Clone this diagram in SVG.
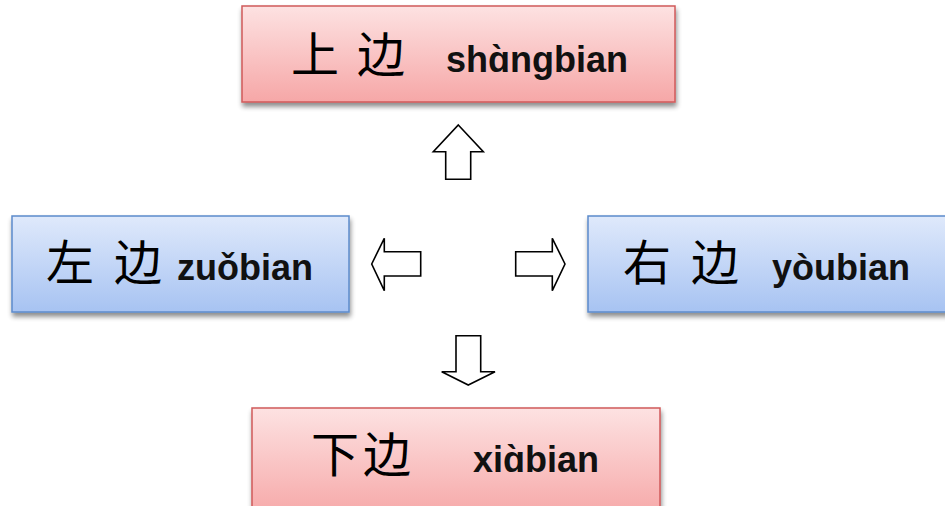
<svg xmlns="http://www.w3.org/2000/svg" width="945" height="506" viewBox="0 0 945 506">
<defs>
<linearGradient id="gRed" x1="0" y1="0" x2="0" y2="1">
<stop offset="0" stop-color="#fde2e2"/>
<stop offset="1" stop-color="#f6a7a7"/>
</linearGradient>
<linearGradient id="gBlue" x1="0" y1="0" x2="0" y2="1">
<stop offset="0" stop-color="#dfe9fb"/>
<stop offset="1" stop-color="#a7c3f2"/>
</linearGradient>
<filter id="sh" x="-10%" y="-20%" width="120%" height="150%">
<feGaussianBlur in="SourceAlpha" stdDeviation="2.5"/>
<feOffset dx="1" dy="4" result="b"/>
<feComponentTransfer><feFuncA type="linear" slope="0.45"/></feComponentTransfer>
<feMerge><feMergeNode/><feMergeNode in="SourceGraphic"/></feMerge>
</filter>
</defs>
<style>
.red{fill:url(#gRed);stroke:#d0595a;stroke-width:1.5;filter:url(#sh)}
.blue{fill:url(#gBlue);stroke:#5c8bcb;stroke-width:1.5;filter:url(#sh)}
.zh{font-family:"Noto Sans CJK SC","Noto Sans CJK TC",sans-serif;font-size:48px;fill:#000}
.py{font-family:"Liberation Sans",Arial,sans-serif;font-weight:bold;font-size:36px;fill:#111}
.arr{fill:#fff;stroke:#000;stroke-width:1.6;stroke-linejoin:miter}
</style>
<rect width="945" height="506" fill="#fff"/>
<g id="top">
<rect class="red" x="242" y="6" width="433" height="96"/>
<text class="zh" x="291" y="72">上</text>
<text class="zh" x="357" y="72">边</text>
<text class="py" x="446" y="72">shɑ̀ngbian</text>
</g>
<g id="left">
<rect class="blue" x="12" y="216" width="337" height="96"/>
<text class="zh" x="46" y="280">左</text>
<text class="zh" x="114" y="280">边</text>
<text class="py" x="177" y="280">zuǒbian</text>
</g>
<g id="right">
<rect class="blue" x="588" y="216" width="370" height="96"/>
<text class="zh" x="623" y="280">右</text>
<text class="zh" x="691" y="280">边</text>
<text class="py" x="772" y="280">yòubian</text>
</g>
<g id="bottom">
<rect class="red" x="252" y="408" width="408" height="110"/>
<text class="zh" x="311" y="472">下</text>
<text class="zh" x="363" y="472">边</text>
<text class="py" x="473" y="472">xiɑ̀bian</text>
</g>
<g id="connectors">
<polygon class="arr" points="458.3,125 483.3,151.7 470.7,151.7 470.7,179.3 445.7,179.3 445.7,151.7 433.3,151.7"/>
<polygon class="arr" points="371.7,264 384.3,238.3 384.3,251.7 420.7,251.7 420.7,276 384.3,276 384.3,290.7"/>
<polygon class="arr" points="565,264 552.3,238.3 552.3,251.7 515.7,251.7 515.7,276 552.3,276 552.3,290.7"/>
<polygon class="arr" points="468.3,385 495,371.7 480.7,371.7 480.7,335.7 456,335.7 456,371.7 441.7,371.7"/>
</g>
</svg>
